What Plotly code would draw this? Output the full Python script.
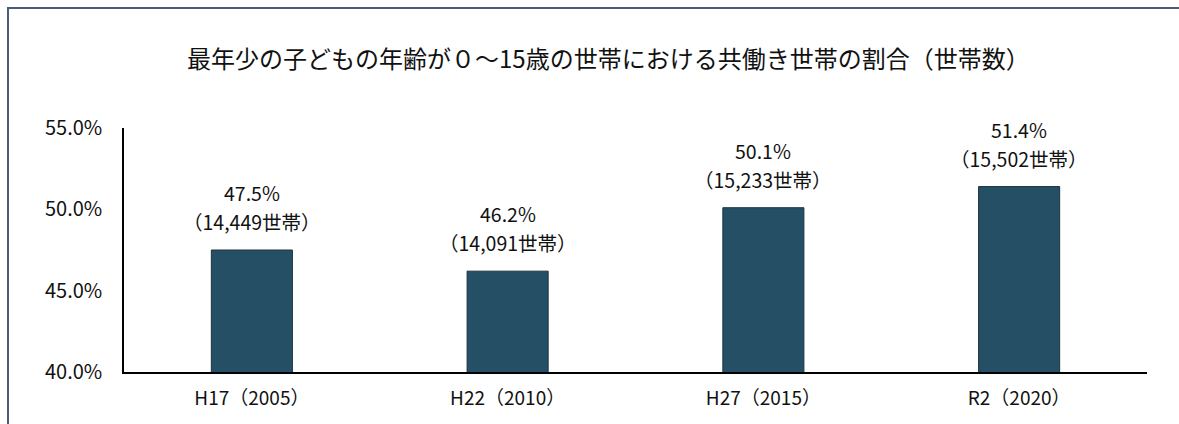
import plotly.graph_objects as go

categories = ["H17（2005）", "H22（2010）", "H27（2015）", "R2（2020）"]
shares = [47.5, 46.2, 50.1, 51.4]
households = ["14,449", "14,091", "15,233", "15,502"]
tick_vals = [40, 45, 50, 55]
tick_text = ["40.0%", "45.0%", "50.0%", "55.0%"]
title_text = "最年少の子どもの年齢が０～15歳の世帯における共働き世帯の割合（世帯数）"

FONT = "Noto Sans CJK JP"
TXT = "#111111"

fig = go.Figure()
fig.add_trace(go.Bar(
    x=categories,
    y=shares,
    base=0,
    marker=dict(color="#254f64", line=dict(color="#1c3440", width=1)),
    width=0.317,
    hoverinfo="skip",
))

annotations = []
for c, v, h in zip(categories, shares, households):
    annotations.append(dict(x=c, y=v, xref="x", yref="y", text=f"{v:.1f}%",
                            showarrow=False, yanchor="bottom", yshift=41,
                            font=dict(family=FONT, size=19.5, color=TXT)))
    annotations.append(dict(x=c, y=v, xref="x", yref="y", text=f"（{h}世帯）",
                            showarrow=False, yanchor="bottom", yshift=12,
                            font=dict(family=FONT, size=19.5, color=TXT)))

annotations.append(dict(x=(608 - 124) / 1023, y=(372 - 57) / 244, xref="paper", yref="paper",
                        text=title_text, showarrow=False, xanchor="center", yanchor="middle",
                        font=dict(family=FONT, size=24, color=TXT)))

fig.update_layout(
    width=1179, height=424,
    margin=dict(l=124, r=32, t=128, b=52),
    paper_bgcolor="white", plot_bgcolor="white",
    showlegend=False,
    annotations=annotations,
    font=dict(family=FONT, size=18, color=TXT),
    xaxis=dict(showline=True, linecolor="black", linewidth=1.5, showgrid=False,
               ticks="outside", ticklen=8, tickcolor="rgba(0,0,0,0)",
               tickfont=dict(family=FONT, size=19, color=TXT),
               zeroline=False),
    yaxis=dict(range=[40, 55], showline=True, linecolor="black", linewidth=1.5,
               showgrid=False, zeroline=False, tickvals=tick_vals, ticktext=tick_text,
               ticks="outside", ticklen=16, tickcolor="rgba(0,0,0,0)",
               tickfont=dict(family=FONT, size=20, color=TXT)),
    shapes=[dict(type="rect", xref="paper", yref="paper",
                 x0=(8 - 124) / 1023, x1=(1190 - 124) / 1023,
                 y0=(372 - 440) / 244, y1=(372 - 8) / 244,
                 line=dict(color="#4a5a78", width=2), fillcolor="rgba(0,0,0,0)",
                 layer="below")],
)

fig.write_html("out.html")
